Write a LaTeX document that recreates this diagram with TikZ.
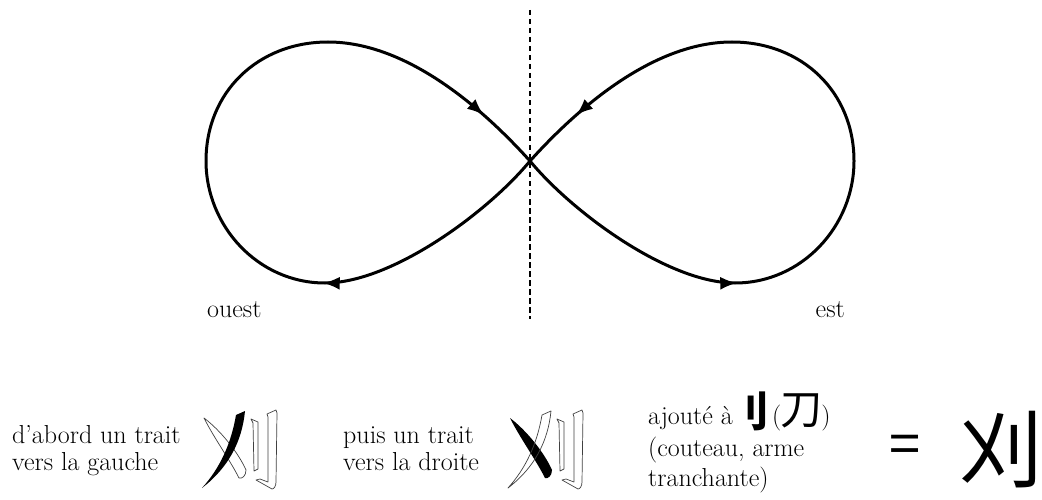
\documentclass[tikz,border=0pt]{standalone}
\usepackage{fontspec}
\newfontfamily\cjk{Noto Sans CJK JP}
\usetikzlibrary{arrows.meta,decorations.markings}
\begin{document}
\begin{tikzpicture}[x=1pt,y=-1pt,
  loopline/.style={line width=3pt, line join=round, postaction={decorate},
    decoration={markings,
      mark=at position 0.285 with {\arrow{Latex[length=17pt,width=13pt]}},
      mark=at position 0.925 with {\arrow{Latex[length=17pt,width=13pt]}}}},
  axisline/.style={line width=2.6pt, dash pattern=on 5.5pt off 3.5pt},
  lbl/.style={inner sep=0pt, font=\fontsize{26}{29}\selectfont},
  outl/.style={draw=black!75, line width=0.7pt, line join=round},
  ink/.style={fill=black},
  gpie/.pic={\path[pic actions] (36,5) -- (45,1) .. controls (42,32) and (28,58) .. (2,78)
        .. controls (20,58) and (31,34) .. (36,5) -- cycle;},
  gna/.pic={\path[pic actions] (4,8) .. controls (20,20) and (38,42) .. (46,60)
        .. controls (46,66) and (42,69) .. (39,68)
        .. controls (30,50) and (14,28) .. (4,8) -- cycle;},
  gsa/.pic={\path[pic actions] (51,9) -- (58,12) -- (58,59) -- (54,61) -- (53,13) -- cycle;},
  gla/.pic={\path[pic actions] (67,4) -- (76,0) -- (77,3) -- (76,72)
        .. controls (76,76) and (74,79) .. (72,79) -- (56,70) -- (60,69) -- (68,72) -- (68,7) -- cycle;}
]
\useasboundingbox (0,0) rectangle (1042,500);

% figure eight
\coordinate (C) at (530,161);
\coordinate (BW) at (325,283);
\coordinate (LW) at (206,161);
\coordinate (TW) at (328,42);
\coordinate (BE) at (735,283);
\coordinate (RE) at (854,161);
\coordinate (TE) at (732,42);
\coordinate (axtop) at (530,10);
\coordinate (axbot) at (530,319);

\draw[axisline] (axtop) -- (axbot);

\draw[loopline] (C) .. controls (488,212) and (392,283) .. (BW)
  .. controls (258,283) and (206,226) .. (LW)
  .. controls (206,92) and (258,42) .. (TW)
  .. controls (408,42) and (484,110) .. (C);
\draw[loopline] (C) .. controls (572,212) and (668,283) .. (BE)
  .. controls (802,283) and (854,226) .. (RE)
  .. controls (854,92) and (802,42) .. (TE)
  .. controls (652,42) and (576,110) .. (C);

\node[lbl, anchor=base west] (ouest) at (207,317) {ouest};
\node[lbl, anchor=base east] (est) at (845,317) {est};

% bottom row
\node[lbl, anchor=base west] (g1a) at (12,443) {d’abord un trait};
\node[lbl, anchor=base west] (g1b) at (12,470) {vers la gauche};

\pic[outl] at (200,410) {gna};
\pic[outl] at (200,410) {gsa};
\pic[outl] at (200,410) {gla};
\pic[ink] at (200,410) {gpie};

\node[lbl, anchor=base west] (g2a) at (343,443) {puis un trait};
\node[lbl, anchor=base west] (g2b) at (343,470) {vers la droite};

\pic[ink] at (506,410) {gna};
\pic[outl] at (506,410) {gpie};
\pic[outl] at (506,410) {gsa};
\pic[outl] at (506,410) {gla};

\node[lbl, anchor=base west] (g3a) at (648,424) {ajouté à};
\node[inner sep=0pt, anchor=base west, font=\fontsize{42}{44}\selectfont\cjk\bfseries] (dao) at (727,427) {刂};
\node[lbl, anchor=base west] (g3c) at (772,424) {(\kern-1pt{\fontsize{42}{44}\selectfont\cjk 刀}\kern-1pt)};
\node[lbl, anchor=base west] (g3d) at (648,456) {(couteau, arme};
\node[lbl, anchor=base west] (g3e) at (648,486) {tranchante)};

\node[inner sep=0pt, font=\fontsize{56}{58}\selectfont\cjk] (eq) at (905,450) {=};
\node[inner sep=0pt, font=\fontsize{84}{86}\selectfont\cjk] (res) at (1001,450) {刈};
\end{tikzpicture}
\end{document}
